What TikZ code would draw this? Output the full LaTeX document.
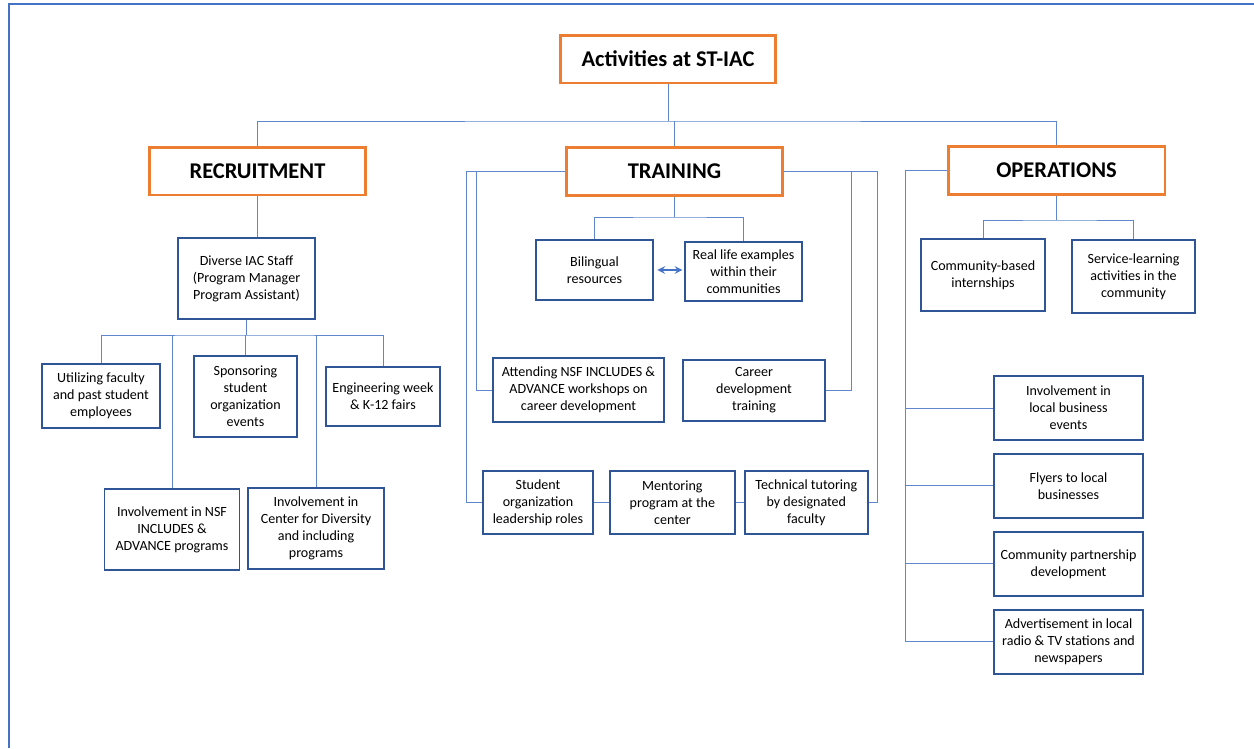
\documentclass[tikz,border=0pt]{standalone}
\usepackage{fontspec}
\setmainfont{Carlito}
\usetikzlibrary{arrows,positioning}
\definecolor{headorange}{HTML}{ED7D31}
\definecolor{boxblue}{HTML}{2F5597}
\definecolor{linkblue}{HTML}{4472C4}
\tikzstyle{head} = [rectangle, draw=headorange, line width=1.7pt, minimum width=4.32cm, minimum height=0.96cm, text centered, font=\bfseries\fontsize{12.8}{15}\selectfont]
\tikzstyle{item} = [rectangle, draw=boxblue, line width=1.1pt, align=center, inner sep=2pt, font=\fontsize{8}{9.6}\selectfont]
\tikzstyle{link} = [draw=linkblue!85, line width=0.55pt]
\pgfdeclarelayer{bg}
\pgfsetlayers{bg,main}
\tikzset{both/.style={<->,>=stealth,draw=linkblue,line width=0.9pt,shorten <=2pt,shorten >=1pt},frame/.style={draw=linkblue,line width=1.1pt}}

\begin{document}
\begin{tikzpicture}[x=0.02cm,y=-0.02cm]
    \useasboundingbox (0,0) rectangle (1254,748);
    \draw[frame] (9,748) -- (9,4) -- (1254,4);

    \node [head] (top) at (668,59) {Activities at ST-IAC};
    \node [head] (recruit) at (257.5,171) {RECRUITMENT};
    \node [head, minimum width=4.34cm] (train) at (674.5,171.5) {TRAINING};
    \node [head, minimum width=4.34cm] (oper) at (1056.5,170.5) {OPERATIONS};

    % recruitment
    \node [item, minimum width=2.74cm, minimum height=1.62cm] (staff) at (246.5,278.5) {Diverse IAC Staff\\(Program Manager\\Program Assistant)};
    \node [item, minimum width=2.36cm, minimum height=1.28cm] (util) at (101,396) {Utilizing faculty\\and past student\\employees};
    \node [item, minimum width=2.06cm, minimum height=1.62cm] (spons) at (245.5,396.5) {Sponsoring\\student\\organization\\events};
    \node [item, minimum width=2.28cm, minimum height=1.18cm] (engweek) at (383,396.5) {Engineering week\\\& K-12 fairs};
    \node [item, minimum width=2.7cm, minimum height=1.62cm] (nsfprog) at (172,529.5) {Involvement in NSF\\INCLUDES \&\\ADVANCE programs};
    \node [item, minimum width=2.72cm, minimum height=1.62cm] (divcenter) at (316,528.5) {Involvement in\\Center for Diversity\\and including\\programs};

    % training
    \node [item, minimum width=2.34cm, minimum height=1.2cm] (biling) at (594.5,270) {Bilingual\\resources};
    \node [item, minimum width=2.34cm, minimum height=1.18cm] (reallife) at (743.5,271.5) {Real life examples\\within their\\communities};
    \node [item, minimum width=3.42cm, minimum height=1.28cm] (attend) at (578.5,390) {Attending NSF INCLUDES \&\\ADVANCE workshops on\\career development};
    \node [item, minimum width=2.84cm, minimum height=1.22cm] (career) at (754,390.5) {Career\\development\\training};
    \node [item, minimum width=2.2cm, minimum height=1.26cm] (studorg) at (538,502.5) {Student\\organization\\leadership roles};
    \node [item, minimum width=2.5cm, minimum height=1.26cm, right=0.3cm of studorg] (mentor) {Mentoring\\program at the\\center};
    \node [item, minimum width=2.46cm, minimum height=1.26cm, right=0.16cm of mentor] (tutor) {Technical tutoring\\by designated\\faculty};

    % operations
    \node [item, minimum width=2.48cm, minimum height=1.44cm] (intern) at (983,275) {Community-based\\internships};
    \node [item, minimum width=2.46cm, minimum height=1.46cm] (servlearn) at (1133.5,276.5) {Service-learning\\activities in the\\community};
    \node [item, minimum width=2.98cm, minimum height=1.28cm] (localbiz) at (1068.5,408) {Involvement in\\local business\\events};
    \node [item, minimum width=2.98cm, minimum height=1.28cm, below=0.24cm of localbiz] (flyers) {Flyers to local\\businesses};
    \node [item, minimum width=2.98cm, minimum height=1.28cm, below=0.24cm of flyers] (partner) {Community partnership\\development};
    \node [item, minimum width=2.98cm, minimum height=1.28cm, below=0.24cm of partner] (advert) {Advertisement in local\\radio \& TV stations and\\newspapers};

    \coordinate (topbus) at (668,121);
    \coordinate (rbus) at (247,335);
    \coordinate (tbus) at (671,217);
    \coordinate (obus) at (1061,220);

    \begin{pgfonlayer}{bg} % connectors
    \draw[link] (top.south) -- (top.south |- topbus);
    \draw[link] (recruit.north) |- (topbus) -| (oper.north);
    \draw[link] (train.north) -- (train.north |- topbus);

    \draw[link] (recruit.south) -- (recruit.south |- staff.north);
    \draw[link] (staff.south) -- (staff.south |- rbus);
    \draw[link] (util.north) |- (rbus) -| (engweek.north);
    \draw[link] (spons.north) -- (spons.north |- rbus);
    \draw[link] (nsfprog.north) -- (nsfprog.north |- rbus);
    \draw[link] (divcenter.north) -- (divcenter.north |- rbus);

    \draw[link] (train.south) -- (train.south |- tbus);
    \draw[link] (biling.north) |- (tbus) -| (reallife.north);
    \draw[link] (train.west) -| ([xshift=-0.32cm]attend.west) -- (attend.west);
    \draw[link] (train.west) -| ([xshift=-0.32cm]studorg.west) -- (studorg.west);
    \draw[link] (train.east) -| ([xshift=0.52cm]career.east) -- (career.east);
    \draw[link] (train.east) -| ([xshift=0.18cm]tutor.east) -- (tutor.east);
    \draw[link] (studorg.east) -- (mentor.west);
    \draw[link] (mentor.east) -- (tutor.west);

    \draw[link] (oper.south) -- (oper.south |- obus);
    \draw[link] (intern.north) |- (obus) -| (servlearn.north);
    \draw[link] (oper.west) -| ([xshift=-1.76cm]advert.west) -- (advert.west);
    \draw[link] (localbiz.west) -- ++(-1.76cm,0);
    \draw[link] (flyers.west) -- ++(-1.76cm,0);
    \draw[link] (partner.west) -- ++(-1.76cm,0);
    \end{pgfonlayer}

    \draw[both] (biling.east) -- (reallife.west |- biling.east);
\end{tikzpicture}
\end{document}
